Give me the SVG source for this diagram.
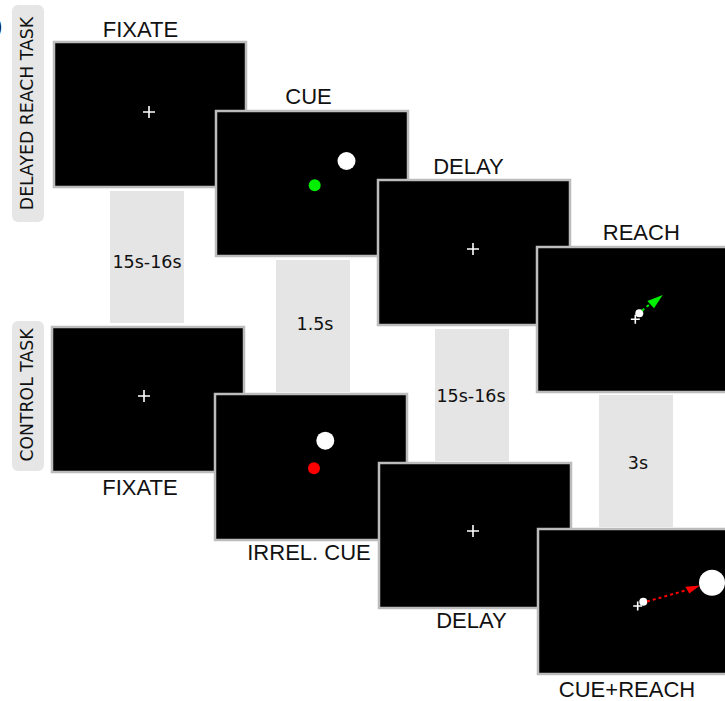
<svg xmlns="http://www.w3.org/2000/svg" width="725" height="701" viewBox="0 0 725 701">
<style>
.panel{fill:#000;stroke:#bcbcbc;stroke-width:2.5}
.bar{fill:#e5e5e5}
.tag{fill:#e6e6e6}
.lbl{font-family:"Liberation Sans",Arial,sans-serif;font-size:22px;fill:#111;text-anchor:middle}
.dur{font-family:"DejaVu Sans",sans-serif;font-size:17.5px;fill:#111;text-anchor:middle}
.side{font-family:"DejaVu Sans",sans-serif;font-size:17.3px;fill:#111;text-anchor:middle}
.cross{stroke:#fff;stroke-width:1.6;fill:none}
</style>
<rect width="725" height="701" fill="#fff"/>
<text x="-5" y="33" class="lbl" style="text-anchor:start">)</text>

<g id="tag-delayed">
<rect class="tag" x="12" y="5" width="32" height="217" rx="6"/>
<text class="side" transform="translate(33,113.5) rotate(-90)">DELAYED REACH TASK</text>
</g>
<g id="tag-control">
<rect class="tag" x="12" y="321" width="32" height="150" rx="6"/>
<text class="side" transform="translate(33,395) rotate(-90)">CONTROL TASK</text>
</g>

<g id="durations">
<g id="d1"><rect class="bar" x="110" y="191" width="74" height="132"/><text class="dur" x="147" y="268">15s-16s</text></g>
<g id="d2"><rect class="bar" x="276" y="260" width="74" height="132"/><text class="dur" x="315" y="330">1.5s</text></g>
<g id="d3"><rect class="bar" x="435" y="329" width="74" height="132"/><text class="dur" x="471" y="402">15s-16s</text></g>
<g id="d4"><rect class="bar" x="599" y="395" width="74" height="132"/><text class="dur" x="638" y="469">3s</text></g>
</g>

<g id="p1-fixate">
<rect class="panel" x="54" y="42" width="192" height="145"/>
<path class="cross" d="M143,112h12M149,106v12"/>
<text class="lbl" x="140.5" y="37">FIXATE</text>
</g>
<g id="p2-cue">
<rect class="panel" x="216" y="111" width="192" height="145"/>
<circle cx="346.5" cy="161" r="9" fill="#fff"/>
<circle cx="314.7" cy="185.3" r="6" fill="#00ee00"/>
<text class="lbl" x="308.5" y="104">CUE</text>
</g>
<g id="p3-delay">
<rect class="panel" x="378" y="180" width="192" height="145"/>
<path class="cross" d="M467,249h12M473,243v12"/>
<text class="lbl" x="468.5" y="174">DELAY</text>
</g>
<g id="p4-reach">
<rect class="panel" x="537" y="247" width="192" height="145"/>
<path class="cross" d="M630.8,319.3h9M635.3,314.8v9"/>
<circle cx="639.3" cy="313.3" r="4" fill="#fff"/>
<line x1="642" y1="310.7" x2="650" y2="304" stroke="#00ee00" stroke-width="2" stroke-dasharray="3,3"/>
<polygon points="662.7,295 647.3,301 654,308.3" fill="#00ee00"/>
<text class="lbl" x="641.3" y="240">REACH</text>
</g>

<g id="p5-fixate">
<rect class="panel" x="52" y="327" width="192" height="145"/>
<path class="cross" d="M138,396h12M144,390v12"/>
<text class="lbl" x="140" y="495">FIXATE</text>
</g>
<g id="p6-irrel">
<rect class="panel" x="215" y="394" width="192" height="146"/>
<circle cx="325.3" cy="440.7" r="9" fill="#fff"/>
<circle cx="314" cy="468.3" r="6" fill="#ff0000"/>
<text class="lbl" x="309" y="560">IRREL. CUE</text>
</g>
<g id="p7-delay">
<rect class="panel" x="379" y="463" width="192" height="145"/>
<path class="cross" d="M467,531h12M473,525v12"/>
<text class="lbl" x="471.5" y="628">DELAY</text>
</g>
<g id="p8-cuereach">
<rect class="panel" x="538" y="529" width="192" height="145"/>
<path class="cross" d="M633.2,606h9M637.7,601.5v9"/>
<circle cx="643.3" cy="601.7" r="4" fill="#fff"/>
<line x1="647" y1="601.5" x2="687" y2="590" stroke="#ff0000" stroke-width="2" stroke-dasharray="3,3"/>
<polygon points="700,585.5 685.3,586.7 689.3,593.5" fill="#ff0000"/>
<circle cx="712" cy="582.7" r="13" fill="#fff"/>
<text class="lbl" x="627" y="697">CUE+REACH</text>
</g>
</svg>
